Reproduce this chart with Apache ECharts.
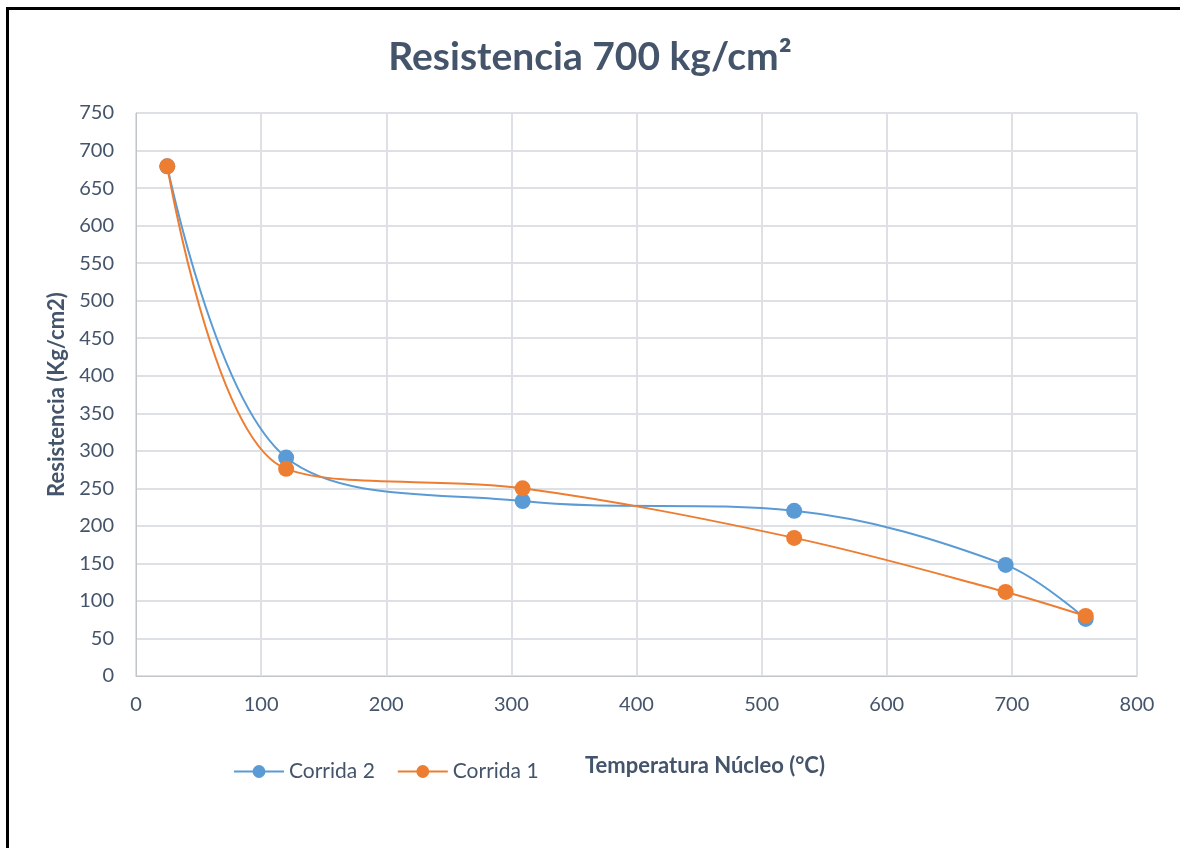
<!DOCTYPE html>
<html lang="es">
<head>
	<meta charset="UTF-8">
	<title>Resistencia 700 kg/cm2</title>
	<style type="text/css">
		body{ margin: 0; background: #fff; overflow: hidden; }
		#frame{
			position: absolute;
			left: 6px;
			top: 7px;
			width: 1400px;
			height: 1000px;
			border-left: 3px solid #000;
			border-top: 3px solid #000;
		}
		#a{
			position: absolute;
			left: 0;
			top: 0;
			width: 1180px;
			height: 848px;
		}
	</style>
</head>
<body>
	<div id="frame"></div>
	<div id="a"></div>
	<script type="text/javascript" src="https://cdn.jsdelivr.net/npm/echarts@6/dist/echarts.min.js"></script>
	<script type="text/javascript">
		// datos
		var temperatura = [25, 120, 309, 526, 695, 759];
		var corrida2 = [679, 291, 233, 220, 148, 76];
		var corrida1 = [679, 276, 250, 184, 112, 80];
		var nombres = ['Corrida 2', 'Corrida 1'];

		var fuente = 'Lato';
		var gris = '#44546A';

		function pares(xs, ys){
			var r = [];
			for(var i=0;i<xs.length;i++){
				r.push([xs[i], ys[i]]);
			}
			return r;
		}

		var myChart = echarts.init(document.getElementById('a'));
		var option = {
			animation: false,
			title: {
				text: 'Resistencia 700 kg/cm²',
				left: 'center',
				top: 33,
				textStyle: { fontFamily: fuente, fontSize: 39, fontWeight: 'bold', color: gris }
			},
			legend: {
				left: 228,
				top: 756,
				itemWidth: 50,
				itemHeight: 16,
				itemGap: 22,
				data: nombres,
				textStyle: { fontFamily: fuente, fontSize: 21, color: gris }
			},
			grid: { left: 136, right: 43, top: 113, bottom: 172 },
			xAxis: {
				type: 'value',
				min: 0, max: 800, interval: 100,
				axisLine: { lineStyle: { color: '#c0c5cc' } },
				axisTick: { show: false },
				axisLabel: { margin: 19, fontFamily: fuente, fontSize: 20, color: gris },
				splitLine: { lineStyle: { color: '#dde1e6', width: 2 } }
			},
			yAxis: {
				type: 'value',
				min: 0, max: 750, interval: 50,
				name: 'Resistencia (Kg/cm2)',
				nameLocation: 'middle',
				nameGap: 68,
				nameTextStyle: { fontFamily: fuente, fontSize: 22, fontWeight: 'bold', color: gris },
				axisLine: { show: true, lineStyle: { color: '#c0c5cc' } },
				axisTick: { show: false },
				axisLabel: { margin: 22, fontFamily: fuente, fontSize: 20, color: gris },
				splitLine: { lineStyle: { color: '#dde1e6', width: 2 } }
			},
			graphic: [{
				type: 'text',
				left: 585,
				top: 755,
				style: { text: 'Temperatura Núcleo (°C)', font: 'bold 22px ' + fuente, fill: gris }
			}],
			series: [
				{
					name: nombres[0],
					type: 'line',
					smooth: 0.35,
					symbol: 'circle',
					symbolSize: 16,
					data: pares(temperatura, corrida2),
					itemStyle: { color: '#5B9BD5' },
					lineStyle: { color: '#5B9BD5', width: 2 }
				},
				{
					name: nombres[1],
					type: 'line',
					smooth: 0.35,
					symbol: 'circle',
					symbolSize: 16,
					data: pares(temperatura, corrida1),
					itemStyle: { color: '#ED7D31' },
					lineStyle: { color: '#ED7D31', width: 2 }
				}
			]
		};
		myChart.setOption(option);
	</script>
</body>
</html>
